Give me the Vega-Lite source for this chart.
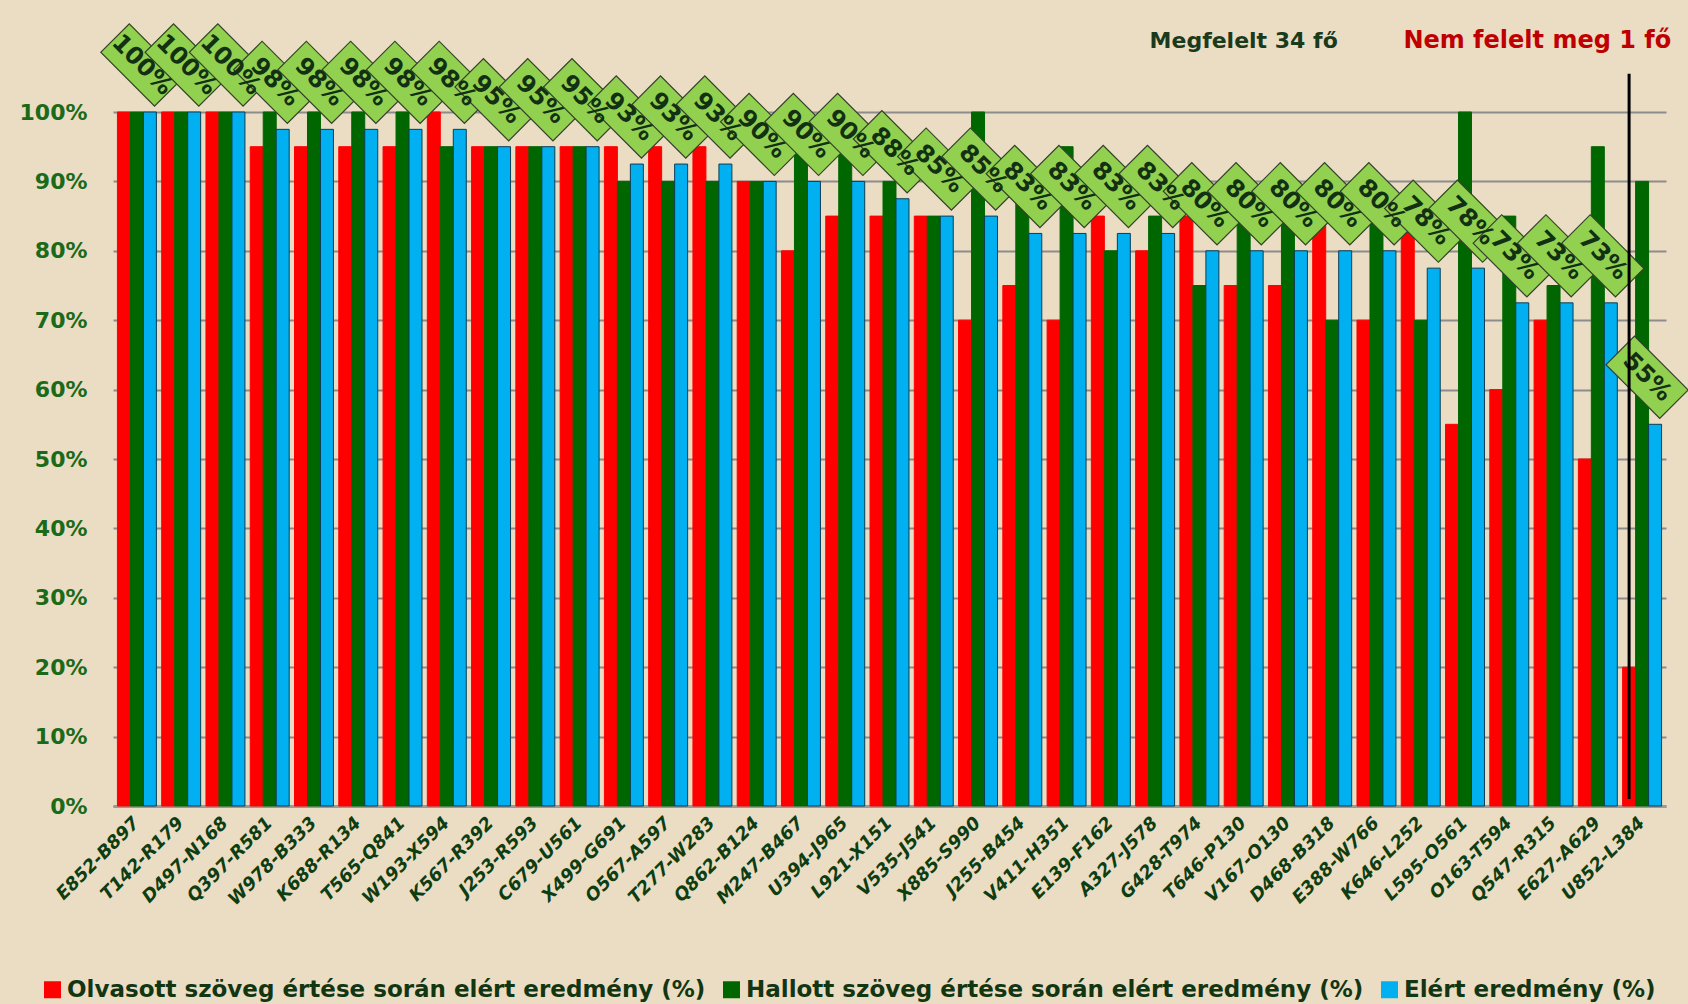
{
  "$schema": "https://vega.github.io/schema/vega-lite/v6.json",
  "width": 1553,
  "height": 694,
  "autosize": "none",
  "padding": {"left": 113, "top": 112, "right": 22, "bottom": 198},
  "background": "#EBDDC3",
  "config": {"view": {"stroke": null}, "font": "DejaVu Sans"},
  "datasets": {
    "bars": [
      {"nev": "E852-B897", "sorozat": "O", "ertek": 100}, {"nev": "E852-B897", "sorozat": "H", "ertek": 100}, {"nev": "E852-B897", "sorozat": "E", "ertek": 100},
      {"nev": "T142-R179", "sorozat": "O", "ertek": 100}, {"nev": "T142-R179", "sorozat": "H", "ertek": 100}, {"nev": "T142-R179", "sorozat": "E", "ertek": 100},
      {"nev": "D497-N168", "sorozat": "O", "ertek": 100}, {"nev": "D497-N168", "sorozat": "H", "ertek": 100}, {"nev": "D497-N168", "sorozat": "E", "ertek": 100},
      {"nev": "Q397-R581", "sorozat": "O", "ertek": 95}, {"nev": "Q397-R581", "sorozat": "H", "ertek": 100}, {"nev": "Q397-R581", "sorozat": "E", "ertek": 97.5},
      {"nev": "W978-B333", "sorozat": "O", "ertek": 95}, {"nev": "W978-B333", "sorozat": "H", "ertek": 100}, {"nev": "W978-B333", "sorozat": "E", "ertek": 97.5},
      {"nev": "K688-R134", "sorozat": "O", "ertek": 95}, {"nev": "K688-R134", "sorozat": "H", "ertek": 100}, {"nev": "K688-R134", "sorozat": "E", "ertek": 97.5},
      {"nev": "T565-Q841", "sorozat": "O", "ertek": 95}, {"nev": "T565-Q841", "sorozat": "H", "ertek": 100}, {"nev": "T565-Q841", "sorozat": "E", "ertek": 97.5},
      {"nev": "W193-X594", "sorozat": "O", "ertek": 100}, {"nev": "W193-X594", "sorozat": "H", "ertek": 95}, {"nev": "W193-X594", "sorozat": "E", "ertek": 97.5},
      {"nev": "K567-R392", "sorozat": "O", "ertek": 95}, {"nev": "K567-R392", "sorozat": "H", "ertek": 95}, {"nev": "K567-R392", "sorozat": "E", "ertek": 95},
      {"nev": "J253-R593", "sorozat": "O", "ertek": 95}, {"nev": "J253-R593", "sorozat": "H", "ertek": 95}, {"nev": "J253-R593", "sorozat": "E", "ertek": 95},
      {"nev": "C679-U561", "sorozat": "O", "ertek": 95}, {"nev": "C679-U561", "sorozat": "H", "ertek": 95}, {"nev": "C679-U561", "sorozat": "E", "ertek": 95},
      {"nev": "X499-G691", "sorozat": "O", "ertek": 95}, {"nev": "X499-G691", "sorozat": "H", "ertek": 90}, {"nev": "X499-G691", "sorozat": "E", "ertek": 92.5},
      {"nev": "O567-A597", "sorozat": "O", "ertek": 95}, {"nev": "O567-A597", "sorozat": "H", "ertek": 90}, {"nev": "O567-A597", "sorozat": "E", "ertek": 92.5},
      {"nev": "T277-W283", "sorozat": "O", "ertek": 95}, {"nev": "T277-W283", "sorozat": "H", "ertek": 90}, {"nev": "T277-W283", "sorozat": "E", "ertek": 92.5},
      {"nev": "Q862-B124", "sorozat": "O", "ertek": 90}, {"nev": "Q862-B124", "sorozat": "H", "ertek": 90}, {"nev": "Q862-B124", "sorozat": "E", "ertek": 90},
      {"nev": "M247-B467", "sorozat": "O", "ertek": 80}, {"nev": "M247-B467", "sorozat": "H", "ertek": 100}, {"nev": "M247-B467", "sorozat": "E", "ertek": 90},
      {"nev": "U394-J965", "sorozat": "O", "ertek": 85}, {"nev": "U394-J965", "sorozat": "H", "ertek": 95}, {"nev": "U394-J965", "sorozat": "E", "ertek": 90},
      {"nev": "L921-X151", "sorozat": "O", "ertek": 85}, {"nev": "L921-X151", "sorozat": "H", "ertek": 90}, {"nev": "L921-X151", "sorozat": "E", "ertek": 87.5},
      {"nev": "V535-J541", "sorozat": "O", "ertek": 85}, {"nev": "V535-J541", "sorozat": "H", "ertek": 85}, {"nev": "V535-J541", "sorozat": "E", "ertek": 85},
      {"nev": "X885-S990", "sorozat": "O", "ertek": 70}, {"nev": "X885-S990", "sorozat": "H", "ertek": 100}, {"nev": "X885-S990", "sorozat": "E", "ertek": 85},
      {"nev": "J255-B454", "sorozat": "O", "ertek": 75}, {"nev": "J255-B454", "sorozat": "H", "ertek": 90}, {"nev": "J255-B454", "sorozat": "E", "ertek": 82.5},
      {"nev": "V411-H351", "sorozat": "O", "ertek": 70}, {"nev": "V411-H351", "sorozat": "H", "ertek": 95}, {"nev": "V411-H351", "sorozat": "E", "ertek": 82.5},
      {"nev": "E139-F162", "sorozat": "O", "ertek": 85}, {"nev": "E139-F162", "sorozat": "H", "ertek": 80}, {"nev": "E139-F162", "sorozat": "E", "ertek": 82.5},
      {"nev": "A327-J578", "sorozat": "O", "ertek": 80}, {"nev": "A327-J578", "sorozat": "H", "ertek": 85}, {"nev": "A327-J578", "sorozat": "E", "ertek": 82.5},
      {"nev": "G428-T974", "sorozat": "O", "ertek": 85}, {"nev": "G428-T974", "sorozat": "H", "ertek": 75}, {"nev": "G428-T974", "sorozat": "E", "ertek": 80},
      {"nev": "T646-P130", "sorozat": "O", "ertek": 75}, {"nev": "T646-P130", "sorozat": "H", "ertek": 85}, {"nev": "T646-P130", "sorozat": "E", "ertek": 80},
      {"nev": "V167-O130", "sorozat": "O", "ertek": 75}, {"nev": "V167-O130", "sorozat": "H", "ertek": 85}, {"nev": "V167-O130", "sorozat": "E", "ertek": 80},
      {"nev": "D468-B318", "sorozat": "O", "ertek": 90}, {"nev": "D468-B318", "sorozat": "H", "ertek": 70}, {"nev": "D468-B318", "sorozat": "E", "ertek": 80},
      {"nev": "E388-W766", "sorozat": "O", "ertek": 70}, {"nev": "E388-W766", "sorozat": "H", "ertek": 90}, {"nev": "E388-W766", "sorozat": "E", "ertek": 80},
      {"nev": "K646-L252", "sorozat": "O", "ertek": 85}, {"nev": "K646-L252", "sorozat": "H", "ertek": 70}, {"nev": "K646-L252", "sorozat": "E", "ertek": 77.5},
      {"nev": "L595-O561", "sorozat": "O", "ertek": 55}, {"nev": "L595-O561", "sorozat": "H", "ertek": 100}, {"nev": "L595-O561", "sorozat": "E", "ertek": 77.5},
      {"nev": "O163-T594", "sorozat": "O", "ertek": 60}, {"nev": "O163-T594", "sorozat": "H", "ertek": 85}, {"nev": "O163-T594", "sorozat": "E", "ertek": 72.5},
      {"nev": "Q547-R315", "sorozat": "O", "ertek": 70}, {"nev": "Q547-R315", "sorozat": "H", "ertek": 75}, {"nev": "Q547-R315", "sorozat": "E", "ertek": 72.5},
      {"nev": "E627-A629", "sorozat": "O", "ertek": 50}, {"nev": "E627-A629", "sorozat": "H", "ertek": 95}, {"nev": "E627-A629", "sorozat": "E", "ertek": 72.5},
      {"nev": "U852-L384", "sorozat": "O", "ertek": 20}, {"nev": "U852-L384", "sorozat": "H", "ertek": 90}, {"nev": "U852-L384", "sorozat": "E", "ertek": 55}
    ],
    "cimkek": [
      {"nev": "E852-B897", "elert": 100, "felirat": "100%"},
      {"nev": "T142-R179", "elert": 100, "felirat": "100%"},
      {"nev": "D497-N168", "elert": 100, "felirat": "100%"},
      {"nev": "Q397-R581", "elert": 97.5, "felirat": "98%"},
      {"nev": "W978-B333", "elert": 97.5, "felirat": "98%"},
      {"nev": "K688-R134", "elert": 97.5, "felirat": "98%"},
      {"nev": "T565-Q841", "elert": 97.5, "felirat": "98%"},
      {"nev": "W193-X594", "elert": 97.5, "felirat": "98%"},
      {"nev": "K567-R392", "elert": 95, "felirat": "95%"},
      {"nev": "J253-R593", "elert": 95, "felirat": "95%"},
      {"nev": "C679-U561", "elert": 95, "felirat": "95%"},
      {"nev": "X499-G691", "elert": 92.5, "felirat": "93%"},
      {"nev": "O567-A597", "elert": 92.5, "felirat": "93%"},
      {"nev": "T277-W283", "elert": 92.5, "felirat": "93%"},
      {"nev": "Q862-B124", "elert": 90, "felirat": "90%"},
      {"nev": "M247-B467", "elert": 90, "felirat": "90%"},
      {"nev": "U394-J965", "elert": 90, "felirat": "90%"},
      {"nev": "L921-X151", "elert": 87.5, "felirat": "88%"},
      {"nev": "V535-J541", "elert": 85, "felirat": "85%"},
      {"nev": "X885-S990", "elert": 85, "felirat": "85%"},
      {"nev": "J255-B454", "elert": 82.5, "felirat": "83%"},
      {"nev": "V411-H351", "elert": 82.5, "felirat": "83%"},
      {"nev": "E139-F162", "elert": 82.5, "felirat": "83%"},
      {"nev": "A327-J578", "elert": 82.5, "felirat": "83%"},
      {"nev": "G428-T974", "elert": 80, "felirat": "80%"},
      {"nev": "T646-P130", "elert": 80, "felirat": "80%"},
      {"nev": "V167-O130", "elert": 80, "felirat": "80%"},
      {"nev": "D468-B318", "elert": 80, "felirat": "80%"},
      {"nev": "E388-W766", "elert": 80, "felirat": "80%"},
      {"nev": "K646-L252", "elert": 77.5, "felirat": "78%"},
      {"nev": "L595-O561", "elert": 77.5, "felirat": "78%"},
      {"nev": "O163-T594", "elert": 72.5, "felirat": "73%"},
      {"nev": "Q547-R315", "elert": 72.5, "felirat": "73%"},
      {"nev": "E627-A629", "elert": 72.5, "felirat": "73%"},
      {"nev": "U852-L384", "elert": 55, "felirat": "55%"}
    ]
  },
  "layer": [
    {
      "data": {"name": "bars"},
      "mark": {"type": "bar", "strokeWidth": 1},
      "encoding": {
        "x": {
          "field": "nev", "type": "nominal", "sort": null,
          "scale": {"paddingInner": 0.12, "paddingOuter": 0.1},
          "axis": {
            "title": null, "labelAngle": -45, "labelAlign": "right", "labelBaseline": "middle",
            "labelFontSize": 18, "labelFontWeight": "bold", "labelFontStyle": "italic",
            "labelColor": "#0F3D12", "ticks": false, "domain": true, "domainColor": "#9A9A9A",
            "domainWidth": 3, "labelPadding": 14, "labelLimit": 400
          }
        },
        "xOffset": {"field": "sorozat", "type": "nominal", "scale": {"domain": ["O", "H", "E"], "paddingInner": 0}},
        "y": {
          "field": "ertek", "type": "quantitative",
          "scale": {"domain": [0, 100]},
          "axis": {
            "title": null, "values": [0, 10, 20, 30, 40, 50, 60, 70, 80, 90, 100],
            "labelExpr": "datum.value + '%'", "labelFontSize": 22, "labelFontWeight": "bold",
            "labelColor": "#1A6A1A", "ticks": false, "domain": false, "grid": true,
            "gridColor": "#8C8C8C", "gridWidth": 2, "labelPadding": 26
          }
        },
        "color": {
          "field": "sorozat", "type": "nominal",
          "scale": {"domain": ["O", "H", "E"], "range": ["#FF0000", "#006600", "#00B0F0"]},
          "legend": {
            "title": null, "orient": "none", "legendX": -72, "legendY": 866, "direction": "horizontal",
            "padding": 0, "symbolType": "square", "symbolSize": 289, "symbolStrokeWidth": 0,
            "labelFontSize": 23, "labelFontWeight": "bold", "labelColor": "#123612", "labelFont": "DejaVu Sans",
            "labelOffset": 3, "columnPadding": 14, "labelLimit": 900,
            "labelExpr": "datum.label == 'O' ? 'Olvasott szöveg értése során elért eredmény (%)' : datum.label == 'H' ? 'Hallott szöveg értése során elért eredmény (%)' : 'Elért eredmény (%)'"
          }
        },
        "stroke": {
          "field": "sorozat", "type": "nominal",
          "scale": {"domain": ["O", "H", "E"], "range": ["#FF0000", "#006600", "#0B3D55"]},
          "legend": null
        }
      }
    },
    {
      "data": {"name": "cimkek"},
      "mark": {
        "type": "point", "shape": "M-1,-0.53L1,-0.53L1,0.53L-1,0.53Z", "size": 5776, "angle": 45,
        "filled": true, "fill": "#92D050", "stroke": "#33422A", "strokeWidth": 1.2, "opacity": 1,
        "yOffset": -47, "xOffset": 5
      },
      "encoding": {
        "x": {"field": "nev", "type": "nominal", "sort": null},
        "y": {"field": "elert", "type": "quantitative"}
      }
    },
    {
      "data": {"name": "cimkek"},
      "mark": {
        "type": "text", "angle": 45, "fontSize": 24, "fontWeight": "bold", "color": "#123012",
        "align": "center", "baseline": "middle", "yOffset": -47, "xOffset": 5
      },
      "encoding": {
        "x": {"field": "nev", "type": "nominal", "sort": null},
        "y": {"field": "elert", "type": "quantitative"},
        "text": {"field": "felirat"}
      }
    },
    {
      "data": {"values": [{"nev": "T646-P130", "y": 110.2, "szoveg": "Megfelelt 34  fő"}]},
      "mark": {"type": "text", "fontSize": 22, "fontWeight": "bold", "color": "#1B3A1B", "align": "center", "baseline": "middle"},
      "encoding": {
        "x": {"field": "nev", "type": "nominal", "sort": null},
        "y": {"field": "y", "type": "quantitative"},
        "text": {"field": "szoveg"}
      }
    },
    {
      "data": {"values": [{"nev": "O163-T594", "y": 110.2, "szoveg": "Nem felelt  meg 1 fő"}]},
      "mark": {"type": "text", "fontSize": 24, "fontWeight": "bold", "color": "#C00000", "align": "center", "baseline": "middle", "dx": 28},
      "encoding": {
        "x": {"field": "nev", "type": "nominal", "sort": null},
        "y": {"field": "y", "type": "quantitative"},
        "text": {"field": "szoveg"}
      }
    },
    {
      "data": {"values": [{"nev": "U852-L384", "felso": 105.5, "also": 1}]},
      "mark": {"type": "rule", "color": "#000000", "strokeWidth": 3, "xOffset": -13},
      "encoding": {
        "x": {"field": "nev", "type": "nominal", "sort": null},
        "y": {"field": "felso", "type": "quantitative"},
        "y2": {"field": "also"}
      }
    }
  ]
}
